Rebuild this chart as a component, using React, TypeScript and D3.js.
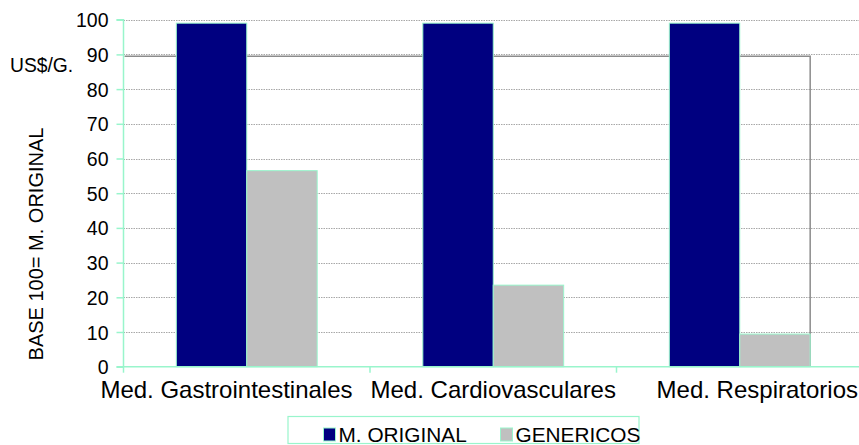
import React, { useEffect, useRef } from "react";
import * as d3 from "d3";

const categories = ["Med. Gastrointestinales", "Med. Cardiovasculares", "Med. Respiratorios"];
const seriesNames = ["M. ORIGINAL", "GENERICOS"];
const originalValues = [99, 99, 99];
const genericValues = [56.5, 23.5, 9.4];
const yTicks = [0, 10, 20, 30, 40, 50, 60, 70, 80, 90, 100];
const boxLevel = [89.5];
const yTitle = "BASE 100= M. ORIGINAL";
const unitLabel = "US$/G.";

const W = 859;
const H = 445;
const FONT = "'Liberation Sans', Arial, sans-serif";
const AQUA = "#99f5cc";
const NAVY = "#000080";
const GRAY = "#c0c0c0";

export default function App() {
  const ref = useRef<SVGSVGElement>(null);

  useEffect(() => {
    const svg = d3.select(ref.current);
    svg.selectAll("*").remove();

    const left = 123.5;
    const right = 863;
    const top = 19.7;
    const bottom = 366.7;

    const y = d3.scaleLinear().domain([0, 100]).range([bottom, top]);
    const x = d3.scaleBand<string>().domain(categories).range([left, right]).padding(0);
    const bw = x.bandwidth();
    const groupW = (bw * 2) / 3.5;
    const inner = d3.scaleBand<string>().domain(seriesNames).range([-groupW / 2, groupW / 2]).padding(0);
    const seriesValues = [originalValues, genericValues];
    const colors = [NAVY, GRAY];

    // gridlines
    svg
      .append("g")
      .selectAll("line")
      .data(yTicks.filter((t) => t > 0))
      .join("line")
      .attr("x1", left)
      .attr("x2", right)
      .attr("y1", (d) => Math.round(y(d)) + 0.5)
      .attr("y2", (d) => Math.round(y(d)) + 0.5)
      .attr("stroke", "#a8a8a8")
      .attr("stroke-width", 1)
      .attr("stroke-dasharray", "1.5,1");

    // box outline
    const lastCat = categories[categories.length - 1];
    const boxRight = (x(lastCat) as number) + bw / 2 + (inner(seriesNames[1]) as number) + inner.bandwidth();
    svg
      .append("path")
      .attr("d", `M${left + 1},${y(boxLevel[0])} H${boxRight} V${y(0)}`)
      .attr("fill", "none")
      .attr("stroke", "#8c8c8c")
      .attr("stroke-width", 1.5);

    // bars
    seriesNames.forEach((s, si) => {
      svg
        .append("g")
        .selectAll("rect")
        .data(categories)
        .join("rect")
        .attr("x", (c) => (x(c) as number) + bw / 2 + (inner(s) as number))
        .attr("y", (c, i) => y(seriesValues[si][i]))
        .attr("width", inner.bandwidth())
        .attr("height", (c, i) => y(0) - y(seriesValues[si][i]))
        .attr("fill", colors[si])
        .attr("stroke", AQUA)
        .attr("stroke-width", 1);
    });

    // y axis
    const yAxis = d3
      .axisLeft(y)
      .tickValues(yTicks)
      .tickSize(7)
      .tickPadding(8)
      .tickFormat(d3.format("d"));
    const gy = svg.append("g").attr("transform", `translate(${left},0)`).call(yAxis);
    gy.select(".domain").attr("stroke", AQUA).attr("stroke-width", 1.5).attr("d", `M-7,${top}H0V${bottom}`);
    gy.selectAll(".tick line").attr("stroke", AQUA).attr("stroke-width", 1.5);
    gy.selectAll(".tick text")
      .attr("font-family", FONT)
      .attr("font-size", 19.5)
      .attr("fill", "#000")
      .attr("dy", "0.36em");

    // x axis
    svg
      .append("line")
      .attr("x1", left - 7)
      .attr("x2", right)
      .attr("y1", bottom)
      .attr("y2", bottom)
      .attr("stroke", AQUA)
      .attr("stroke-width", 1.5);
    svg
      .append("g")
      .selectAll("line")
      .data(categories.map((c, i) => i).concat([categories.length]))
      .join("line")
      .attr("x1", (i) => left + bw * i)
      .attr("x2", (i) => left + bw * i)
      .attr("y1", bottom)
      .attr("y2", bottom + 6)
      .attr("stroke", AQUA)
      .attr("stroke-width", 1.5);

    // category labels
    const labels = svg
      .append("g")
      .selectAll("text")
      .data(categories)
      .join("text")
      .attr("font-family", FONT)
      .attr("font-size", 24)
      .attr("fill", "#000")
      .attr("y", 398)
      .text((d) => d);
    const widths: number[] = [];
    labels.each(function () {
      widths.push((this as SVGTextElement).getComputedTextLength());
    });
    const starts = categories.map((c, i) => (x(c) as number) + bw / 2 - widths[i] / 2);
    const last = categories.length - 1;
    starts[last] = W - 1 - widths[last];
    for (let i = last - 1; i >= 0; i--) {
      if (starts[i] + widths[i] > starts[i + 1] - 18) starts[i] = starts[i + 1] - 18 - widths[i];
    }
    labels.attr("x", (d, i) => starts[i]);

    // y title
    svg
      .append("text")
      .attr("transform", `translate(43,244) rotate(-90)`)
      .attr("text-anchor", "middle")
      .attr("font-family", FONT)
      .attr("font-size", 20)
      .attr("fill", "#000")
      .text(yTitle);

    svg
      .append("text")
      .attr("x", 10)
      .attr("y", 72)
      .attr("font-family", FONT)
      .attr("font-size", 19.3)
      .attr("fill", "#000")
      .text(unitLabel);

    // legend
    const lg = svg.append("g");
    lg.append("rect")
      .attr("x", 288)
      .attr("y", 416.5)
      .attr("width", 351)
      .attr("height", 27)
      .attr("fill", "#fff")
      .attr("stroke", AQUA)
      .attr("stroke-width", 1.2);
    const legendX = [323.5, 500.5];
    seriesNames.forEach((s, i) => {
      lg.append("rect")
        .attr("x", legendX[i])
        .attr("y", 428)
        .attr("width", 12)
        .attr("height", 13)
        .attr("fill", colors[i])
        .attr("stroke", AQUA)
        .attr("stroke-width", 1);
      lg.append("text")
        .attr("x", legendX[i] + 15)
        .attr("y", 441.5)
        .attr("font-family", FONT)
        .attr("font-size", 20.8)
        .attr("fill", "#000")
        .text(s);
    });
  }, []);

  return (
    <svg
      ref={ref}
      width={W}
      height={H}
      style={{ position: "absolute", left: 0, top: 0, background: "#fff" }}
    />
  );
}
